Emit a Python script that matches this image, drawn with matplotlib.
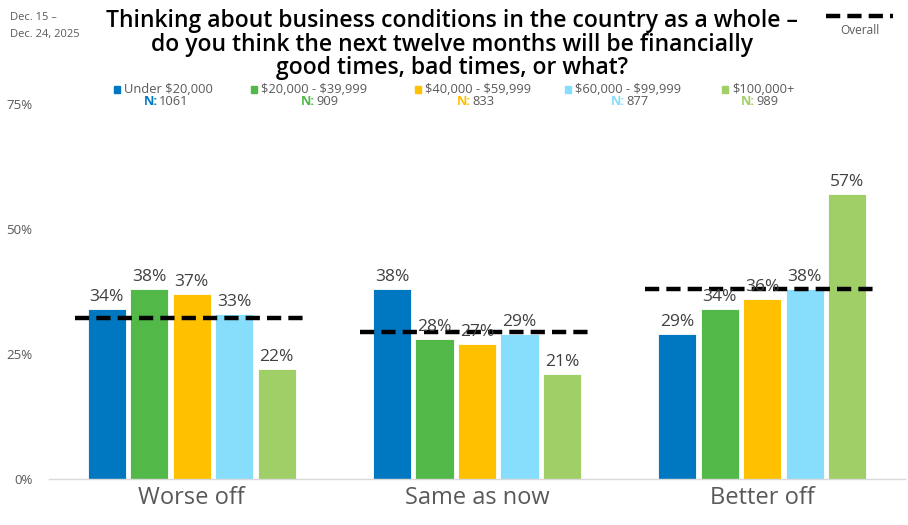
import matplotlib
matplotlib.use("Agg")
import matplotlib.pyplot as plt
import numpy as np

categories = ["Worse off", "Same as now", "Better off"]
groups = ["Under $20,000", "$20,000 - $39,999", "$40,000 - $59,999", "$60,000 - $99,999", "$100,000+"]
group_n = ["1061", "909", "833", "877", "989"]
values = {
    "Under $20,000": [34, 38, 29],
    "$20,000 - $39,999": [38, 28, 34],
    "$40,000 - $59,999": [37, 27, 36],
    "$60,000 - $99,999": [33, 29, 38],
    "$100,000+": [22, 21, 57],
}
overall = [32.2, 29.5, 38.0]
yticks = [0, 25, 50, 75]

colors = ["#0078C1", "#52B848", "#FFC000", "#87DEFC", "#A0CF67"]
GREY = "#595959"
FONT = "Open Sans"

plt.rcParams['font.family'] = [FONT, 'DejaVu Sans']

W, H = 908, 525
fig = plt.figure(figsize=(W / 100, H / 100), dpi=100)
ax = fig.add_axes([49 / W, (H - 479) / H, (905 - 49) / W, (479 - 104) / H])

pitch = 0.149
bw = 0.134
x = np.arange(len(categories))
for i, g in enumerate(groups):
    xs = x + (i - 2) * pitch
    ax.bar(xs, values[g], width=bw, color=colors[i], edgecolor="white", linewidth=0.6, zorder=2)
    for xx, v in zip(xs, values[g]):
        ax.annotate(f"{v}%", (xx, v), xytext=(0, 3), textcoords="offset points",
                    ha="center", va="bottom", fontsize=12.5, color="#404040", zorder=4)

half = 2 * pitch + bw / 2 + 0.045
for xi, ov in zip(x, overall):
    ax.plot([xi - half, xi + half], [ov, ov], color="black", lw=3.2, dashes=(3.2, 1.6), zorder=3,
            solid_capstyle="butt", dash_capstyle="butt")

ax.set_xlim(-0.5, 2.5)
ax.set_ylim(0, 75)
ax.set_yticks(yticks)
ax.set_yticklabels([f"{t}%" for t in yticks], color=GREY, fontsize=9.5)
ax.set_xticks(x)
ax.set_xticklabels(categories, fontsize=17, color=GREY)
ax.tick_params(axis="both", length=0)
ax.tick_params(axis="y", pad=12)
ax.tick_params(axis="x", pad=5)
for s in ["top", "right", "left"]:
    ax.spines[s].set_visible(False)
ax.spines["bottom"].set_color("#D9D9D9")
ax.spines["bottom"].set_linewidth(1)

def fx(px):
    return px / W

def fy(py):
    return 1 - py / H

# Title
title_lines = ["Thinking about business conditions in the country as a whole \u2013",
               "do you think the next twelve months will be financially",
               "good times, bad times, or what?"]
for yy, line in zip([21, 45, 68], title_lines):
    fig.text(fx(452), fy(yy), line, ha="center", va="center", fontsize=16.5,
             fontweight="semibold", color="black")

# Date
fig.text(fx(10), fy(17), "Dec. 15 \u2013", ha="left", va="center", fontsize=8, color=GREY)
fig.text(fx(10), fy(35), "Dec. 24, 2025", ha="left", va="center", fontsize=8, color=GREY)

# Overall legend
fig.lines.append(matplotlib.lines.Line2D([fx(826), fx(893)], [fy(16), fy(16)], transform=fig.transFigure,
                                          color="black", lw=3.2, dashes=(3.2, 1.6)))
fig.text(fx(860), fy(31), "Overall", ha="center", va="center", fontsize=8.5, color=GREY)

# Group legend
sq_x = [114, 251, 415, 565, 722]
n_x = [144, 301, 457, 611, 741]
for i, g in enumerate(groups):
    fig.patches.append(matplotlib.patches.Rectangle((fx(sq_x[i]), fy(92.5)), 6 / W, 6 / H,
                                                    transform=fig.transFigure, color=colors[i]))
    fig.text(fx(sq_x[i] + 10), fy(89.5), g, ha="left", va="center", fontsize=9.3, color=GREY,
             parse_math=False)
    fig.text(fx(n_x[i]), fy(101.5), "N:", ha="left", va="center", fontsize=9.3,
             fontweight="bold", color=colors[i])
    fig.text(fx(n_x[i] + 15), fy(101.5), group_n[i], ha="left", va="center", fontsize=9.3, color=GREY)

fig.savefig("out.png", dpi=100)
